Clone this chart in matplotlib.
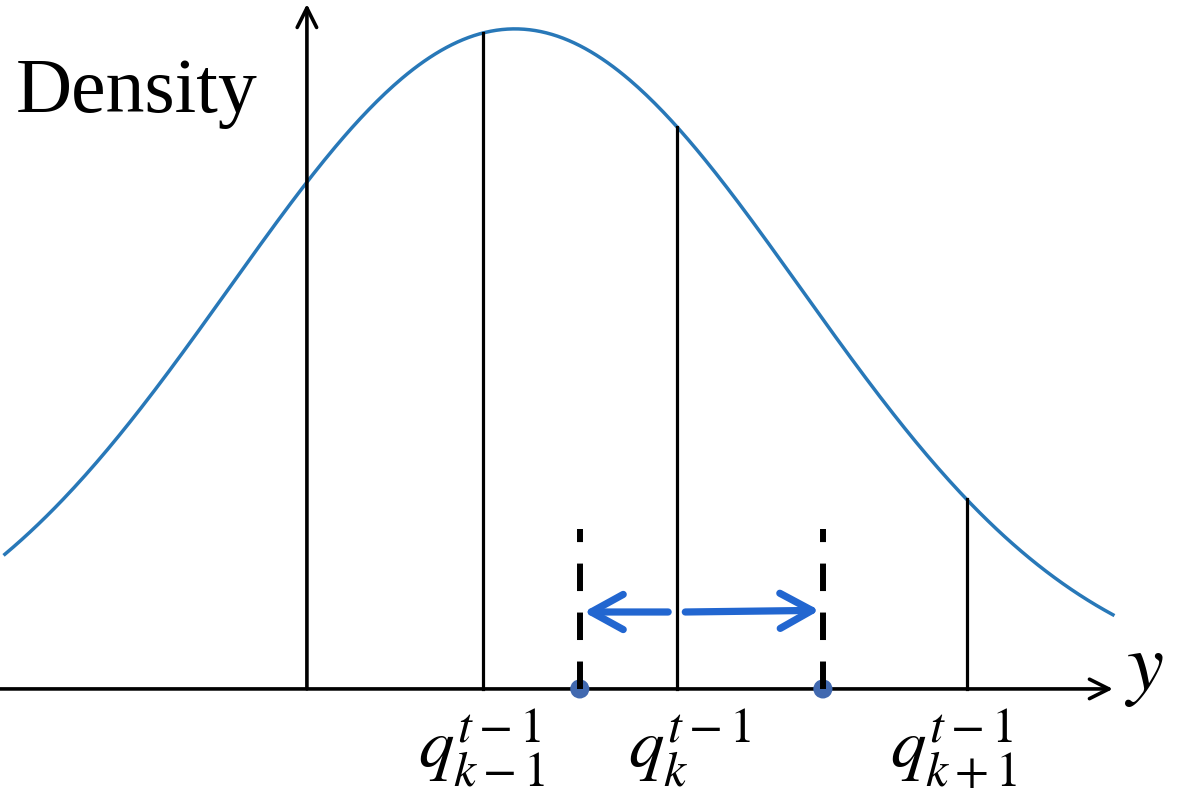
import numpy as np
import matplotlib
matplotlib.use("Agg")
import matplotlib.pyplot as plt
from matplotlib.patches import FancyArrowPatch

plt.rcParams["mathtext.fontset"] = "stix"

# density curve parameters (standard units)
mu, sigma = 0.0, 1.0
curve_range = (-1.783, 2.091)

# quantile positions from the previous step
quantiles = [-0.112, 0.566, 1.580]
quantile_labels = [r"$q_{k-1}^{t-1}$", r"$q_{k}^{t-1}$", r"$q_{k+1}^{t-1}$"]

# interval bounds around q_k (dashed) and the axis locations
bounds = [0.227, 1.077]
bound_top = 0.0967
yaxis_x = -0.727
yaxis_top = 0.414
xaxis_range = (-1.80, 2.091)
arrow_y = 0.0465
arrow_gap = 0.03

CURVE = "#2878b8"
ARROW_BLUE = "#2266d0"
DOT_BLUE = "#4169b0"


def pdf(x):
    return np.exp(-0.5 * ((x - mu) / sigma) ** 2) / (sigma * np.sqrt(2 * np.pi))


fig = plt.figure(figsize=(11.79, 7.92), dpi=100)
ax = fig.add_axes([0, 0, 1, 1])
ax.set_xlim(-1.80, 2.322)
ax.set_ylim(-0.0623, 0.4164)
ax.axis("off")

xs = np.linspace(*curve_range, 400)
ax.plot(xs, pdf(xs), color=CURVE, lw=2.5, zorder=3)

# axes with open arrow heads
axis_style = dict(arrowstyle="->,head_length=1.0,head_width=0.5", mutation_scale=14,
                  color="black", lw=2.6, shrinkA=0, shrinkB=0, zorder=4)
ax.add_patch(FancyArrowPatch((xaxis_range[0], 0), (xaxis_range[1], 0), **axis_style))
ax.add_patch(FancyArrowPatch((yaxis_x, 0), (yaxis_x, yaxis_top), **axis_style))

# quantile lines up to the density; labels nudged by hand like the original
label_dx = [-47, -35, -55]
for q, lab, dx in zip(quantiles, quantile_labels, label_dx):
    ax.plot([q, q], [0, pdf(q)], color="black", lw=2.3, zorder=4)
    ax.annotate(lab, (q, 0), xytext=(dx, -13), textcoords="offset points",
                ha="left", va="top", fontsize=51)

# dashed interval bounds and their dots on the axis
for b in bounds:
    ax.plot([b, b], [0, bound_top], color="black", lw=4.3, ls=(0, (4.6, 3.6)),
            solid_capstyle="butt", dash_capstyle="butt", zorder=5)
ax.scatter(bounds, [0, 0], s=190, color=DOT_BLUE, zorder=4.5, edgecolors="none")

# blue arrows spreading from q_k to the bounds
blue_style = dict(arrowstyle="->,head_length=1.0,head_width=0.55", mutation_scale=23,
                  color=ARROW_BLUE, lw=5.2, shrinkA=0, shrinkB=0, capstyle="round",
                  joinstyle="round", zorder=6)
qk = quantiles[1]
ax.add_patch(FancyArrowPatch((qk - arrow_gap, arrow_y), (bounds[0] + 0.014, arrow_y), **blue_style))
ax.add_patch(FancyArrowPatch((qk + arrow_gap, arrow_y), (bounds[1] - 0.012, arrow_y + 0.001), **blue_style))

ax.text(xaxis_range[1] + 0.04, 0.0125, r"$y$", fontsize=60, ha="left", va="center")
ax.text(-1.745, 0.3487, "Density", family="Liberation Serif", fontsize=56,
        ha="left", va="baseline")

fig.savefig("out.png", dpi=100)
